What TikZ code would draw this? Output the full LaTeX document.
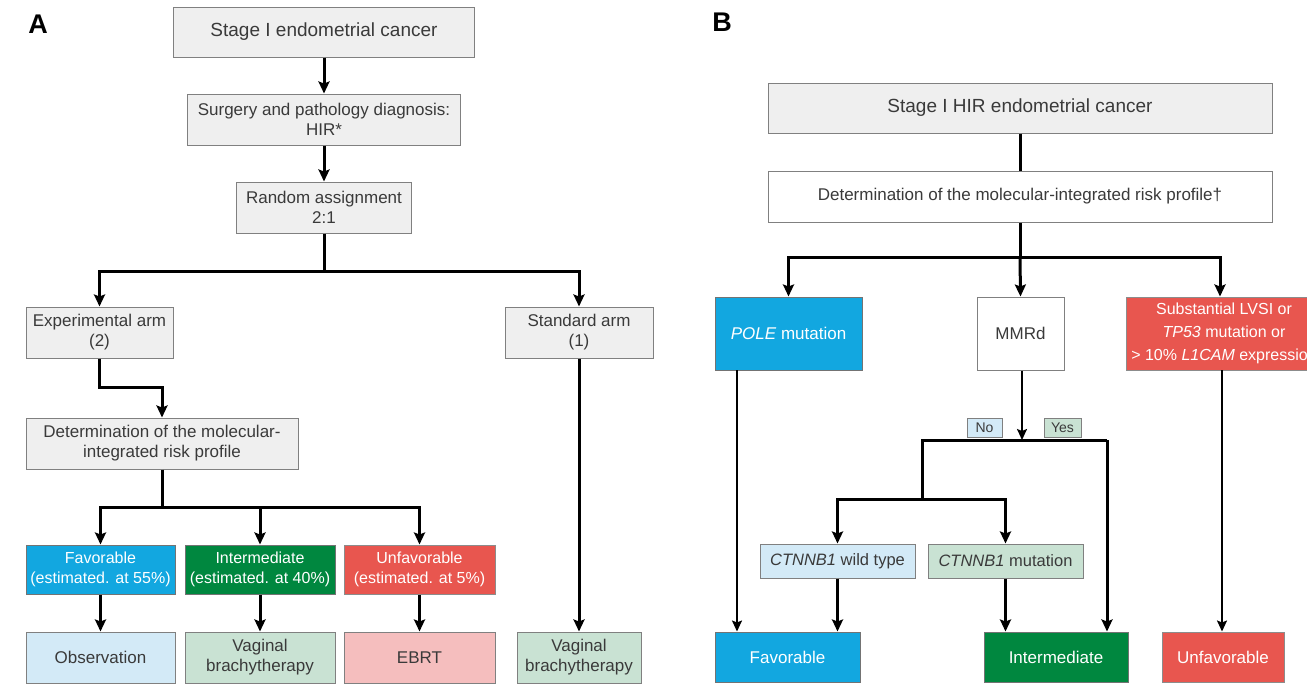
\documentclass[tikz,border=0pt]{standalone}
\usepackage{fontspec}
\setmainfont{Liberation Sans}
\usetikzlibrary{arrows.meta}
\definecolor{boxgray}{HTML}{EFEFEF}
\definecolor{bordergray}{HTML}{808080}
\definecolor{textgray}{HTML}{3A3A3A}
\definecolor{favblue}{HTML}{12A7E0}
\definecolor{intgreen}{HTML}{00873F}
\definecolor{unfred}{HTML}{E8564F}
\definecolor{lightblue}{HTML}{D3EAF7}
\definecolor{lightgreen}{HTML}{C9E2D3}
\definecolor{lightpink}{HTML}{F5BEBE}
\begin{document}
\begin{tikzpicture}[x=1pt,y=-1pt,
  box/.style={draw=bordergray, line width=1pt, align=center, inner sep=2pt,
    text=textgray, font=\fontsize{17}{20}\selectfont, anchor=center},
  graybox/.style={box, fill=boxgray},
  whitebox/.style={box, fill=white},
  favbox/.style={box, fill=favblue, draw=black!55, text=white},
  intbox/.style={box, fill=intgreen, draw=black!55, text=white},
  unfbox/.style={box, fill=unfred, draw=black!45, text=white},
  lbbox/.style={box, fill=lightblue},
  lgbox/.style={box, fill=lightgreen},
  pkbox/.style={box, fill=lightpink},
  riskA/.style={font=\fontsize{16}{20}\selectfont},
  tag/.style={box, font=\fontsize{14}{16}\selectfont, inner sep=1pt},
  panel/.style={font=\fontsize{27}{30}\selectfont\bfseries, text=black},
  ln/.style={line width=3pt, black},
  thinln/.style={line width=1.8pt, black},
  con/.style={ln, -{Stealth[length=12pt,width=11pt,inset=2pt]}},
  thincon/.style={thinln, -{Stealth[length=11pt,width=10pt,inset=2pt]}},
]
\useasboundingbox (0,0) rectangle (1307,694);
\fill[white] (0,0) rectangle (1307,694);
\clip (0,0) rectangle (1307,694);

% ---------------- Panel A ----------------
\node[panel] (labA) at (38,24) {A};
\node[graybox, font=\fontsize{19}{22}\selectfont, minimum width=301pt, minimum height=50pt] (a1) at (324,32) {Stage I endometrial cancer};
\node[graybox, minimum width=273pt, minimum height=51pt] (a2) at (324,119.5) {Surgery and pathology diagnosis:\\HIR*};
\node[graybox, minimum width=175pt, minimum height=51pt] (a3) at (324,207.5) {Random assignment\\2:1};
\node[graybox, minimum width=147pt, minimum height=51pt] (a4) at (99.5,332.5) {Experimental arm\\(2)};
\node[graybox, minimum width=148pt, minimum height=51pt] (a5) at (579,332.5) {Standard arm\\(1)};
\node[graybox, minimum width=272pt, minimum height=51pt] (a6) at (162,443.5) {Determination of the molecular-\\integrated risk profile};
\node[favbox, riskA, minimum width=149pt, minimum height=49pt] (fa) at (100.5,569.5) {Favorable\\(estimated. at 55\%)};
\node[intbox, riskA, minimum width=150pt, minimum height=49pt] (ia) at (260,569.5) {Intermediate\\(estimated. at 40\%)};
\node[unfbox, riskA, minimum width=151pt, minimum height=49pt] (ua) at (419.5,569.5) {Unfavorable\\(estimated. at 5\%)};
\node[lbbox, minimum width=149pt, minimum height=51pt] (ob) at (100.5,657.5) {Observation};
\node[lgbox, minimum width=150pt, minimum height=51pt] (vb1) at (260,657.5) {Vaginal\\brachytherapy};
\node[pkbox, minimum width=151pt, minimum height=51pt] (eb) at (419.5,657.5) {EBRT};
\node[lgbox, minimum width=124pt, minimum height=51pt] (vb2) at (579,657.5) {Vaginal\\brachytherapy};

\draw[con] (a1.south) -- (a2.north);
\draw[con] (a2.south) -- (a3.north);
\coordinate (sA) at (324,271);
\draw[ln] (a3.south) -- (sA);
\draw[con] (sA) -| (a4.north);
\draw[con] (sA) -| (a5.north);
\draw[con] (a4.south) -- ++(0,29) -| (a6.north);
\coordinate (sB) at (162,507);
\draw[ln] (a6.south) -- (sB);
\draw[con] (sB) -| (fa.north);
\draw[con] (sB) -| (ia.north);
\draw[con] (sB) -| (ua.north);
\draw[con] (fa.south) -- (ob.north);
\draw[con] (ia.south) -- (vb1.north);
\draw[con] (ua.south) -- (eb.north);
\draw[con] (a5.south) -- (vb2.north);

% ---------------- Panel B ----------------
\node[panel] (labB) at (722,22) {B};
\node[graybox, font=\fontsize{19}{22}\selectfont, minimum width=504pt, minimum height=50pt] (b1) at (1020,108) {Stage I HIR endometrial cancer};
\node[whitebox, minimum width=504pt, minimum height=51pt] (b2) at (1020,196.5) {Determination of the molecular-integrated risk profile†};
\node[favbox, minimum width=147pt, minimum height=73pt] (b3) at (788.5,333.5) {\textit{POLE} mutation};
\node[whitebox, minimum width=87pt, minimum height=73pt] (b4) at (1020.5,333.5) {MMRd};
\node[unfbox, font=\fontsize{16}{23}\selectfont, minimum width=196pt, minimum height=73pt] (b5) at (1224,333.5) {Substantial LVSI or\\\textit{TP53} mutation or\\> 10\% \textit{L1CAM} expression};
\node[tag, fill=lightblue, minimum width=35pt, minimum height=19pt] (no) at (984.5,427.5) {No};
\node[tag, fill=lightgreen, minimum width=37pt, minimum height=19pt] (yes) at (1062.5,427.5) {Yes};
\node[lbbox, font=\fontsize{16.5}{20}\selectfont, minimum width=155pt, minimum height=34pt] (c1) at (837.5,561) {\textit{CTNNB1} wild type};
\node[lgbox, font=\fontsize{16.5}{20}\selectfont, minimum width=155pt, minimum height=34pt] (c2) at (1005.5,561) {\textit{CTNNB1} mutation};
\node[favbox, minimum width=145pt, minimum height=50pt] (fb) at (787.5,657) {Favorable};
\node[intbox, minimum width=144pt, minimum height=50pt] (ib) at (1056,657) {Intermediate};
\node[unfbox, minimum width=122pt, minimum height=50pt] (ub) at (1223,657) {Unfavorable};

\draw[ln] (b1.south) -- (b2.north);
\coordinate (sC) at (1020,257);
\draw[ln] (b2.south) -- (sC);
\draw[con] (sC) -| (b3.north);
\draw[con] (sC) -- (b4.north);
\coordinate (sR) at (1220,257);
\draw[con] (sC) -- (sR) -- (sR |- b5.north);
\coordinate (sD) at (1022,440);
\draw[thincon] (b4.south -| sD) -- (sD);
\coordinate (nR) at (1107,440);
\coordinate (sE) at (922,499);
\draw[ln] (sE) |- (nR);
\draw[con] (nR) -- (ib.north -| nR);
\draw[con] (sE) -| (c1.north);
\draw[con] (sE) -| (c2.north);
\draw[con] (c1.south) -- (c1.south |- fb.north);
\draw[con] (c2.south) -- (c2.south |- ib.north);
\coordinate (pl) at (737,370);
\draw[thincon] (pl) -- (pl |- fb.north);
\coordinate (pr) at (1222,370);
\draw[thincon] (pr) -- (pr |- ub.north);
\end{tikzpicture}
\end{document}
